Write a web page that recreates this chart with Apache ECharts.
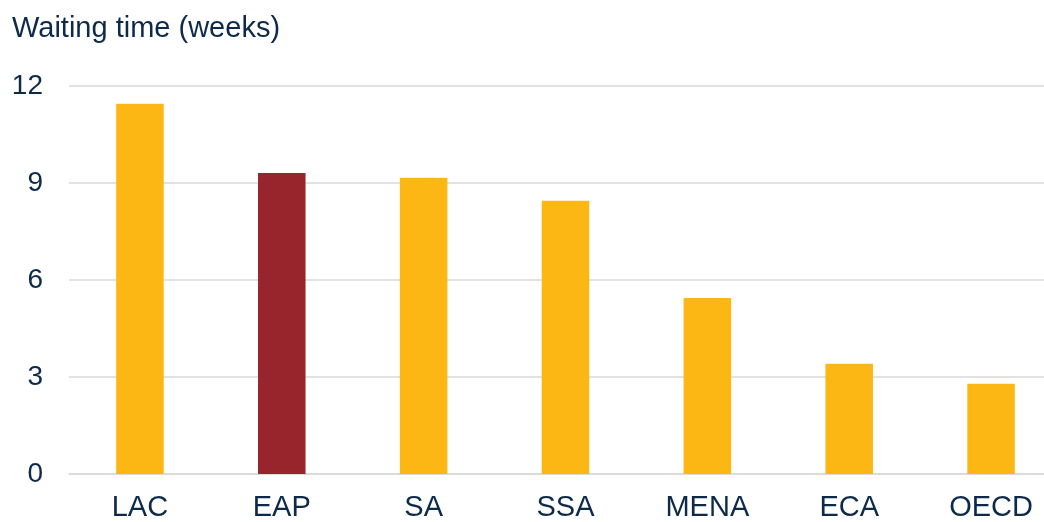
<!DOCTYPE html>
<html>
<head>
<meta charset="utf-8">
<script src="https://cdn.jsdelivr.net/npm/echarts@6/dist/echarts.min.js"></script>
<style>html,body{margin:0;padding:0;background:#fff;overflow:hidden;width:1044px;height:522px}#c{width:1062px;height:522px}</style>
</head>
<body>
<div id="c"></div>
<script>
const categories = ['LAC', 'EAP', 'SA', 'SSA', 'MENA', 'ECA', 'OECD'];
const values = [11.45, 9.31, 9.16, 8.45, 5.44, 3.41, 2.79];
const highlight = 'EAP';
const yTicks = [0, 3, 6, 9, 12];

const yellow = '#FDB714';
const red = '#98252B';
const textColor = '#0D2A4A';
const font = 'Liberation Sans, Arial, sans-serif';

const chart = echarts.init(document.getElementById('c'));
chart.setOption({
  animation: false,
  title: {
    text: 'Waiting time (weeks)',
    left: 7, top: 9,
    textStyle: { fontFamily: font, fontSize: 29, fontWeight: 'normal', color: textColor }
  },
  grid: { left: 69, right: 0, top: 86, bottom: 46, containLabel: false },
  xAxis: {
    type: 'category',
    data: categories,
    axisLine: { show: true, lineStyle: { color: '#D9D9D9', width: 1.5 } },
    axisTick: { show: false },
    axisLabel: { fontFamily: font, fontSize: 29, color: textColor, margin: 19 }
  },
  yAxis: {
    type: 'value',
    min: yTicks[0], max: yTicks[yTicks.length - 1], interval: 3,
    axisLine: { show: false },
    axisTick: { show: false },
    splitLine: { lineStyle: { color: '#D9D9D9', width: 1.5 } },
    axisLabel: { fontFamily: font, fontSize: 28, color: textColor, margin: 26 }
  },
  series: [{
    type: 'bar',
    barWidth: '33.5%',
    data: values.map((v, i) => ({
      value: v,
      itemStyle: { color: categories[i] === highlight ? red : yellow }
    }))
  }]
});
</script>
</body>
</html>
